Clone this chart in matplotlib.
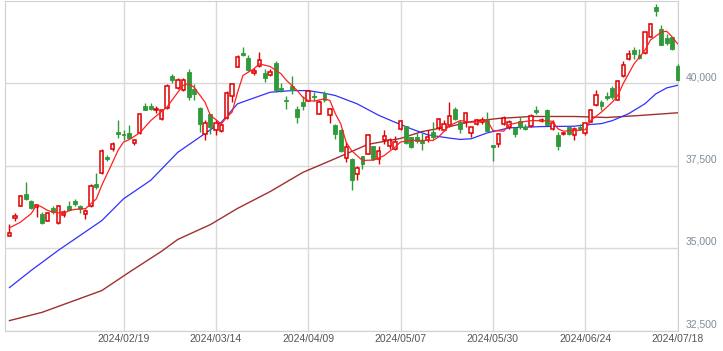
import matplotlib.pyplot as plt
import matplotlib.transforms as mtransforms
import numpy as np
import pandas as pd

# trading days (Tokyo), 2024/01/18 - 2024/07/18
holidays = ['2024-02-12', '2024-02-23', '2024-03-20', '2024-04-29',
            '2024-05-03', '2024-05-06', '2024-07-15']
days = pd.bdate_range('2024-01-18', '2024-07-18')
days = days[~days.isin(pd.to_datetime(holidays))]

opens = [35370, 35904, 36280, 36622, 36410, 36237, 36016, 35825, 36198, 35764,
         35995, 36258, 36431, 36258, 36016, 36258, 36934, 37258, 37743, 38006,
         38510, 38461, 38491, 38188, 38479, 39297, 39288, 39167, 38915, 39249,
         40206, 39855, 39773, 40328, 39824, 39237, 38461, 39046, 38582, 38531,
         38946, 39600, 40500, 40915, 40764, 40309, 40509, 40309, 40249, 40612,
         39843, 39500, 39924, 39218, 39419, 39449, 39621, 39067, 39691, 39037,
         38733, 38582, 37734, 37703, 37249, 37794, 37855, 38076, 37703, 38258,
         38076, 38006, 38612, 38682, 38358, 38350, 38258, 38258, 38510, 38643,
         38561, 38713, 39218, 38813, 38813, 38479, 38764, 38813, 38885, 38107,
         38158, 38743, 38661, 38631, 38843, 38661, 38682, 39167, 38843, 39167,
         38591, 38431, 38440, 38661, 38410, 38661, 38491, 38824, 39340, 39419,
         39600, 39843, 39491, 40197, 40734, 40985, 40855, 40915, 41409, 42318,
         41643, 41358, 41388, 40509]
highs = [35734, 36067, 36592, 36985, 36440, 36310, 36085, 36076, 36258, 36288,
         36137, 36419, 36470, 36310, 36188, 36946, 37267, 38006, 37825, 38207,
         38864, 38582, 38734, 38310, 39067, 39388, 39388, 39288, 39218, 39964,
         40279, 40158, 40146, 40430, 39976, 39258, 38864, 39046, 38864, 38794,
         39752, 39976, 40855, 41085, 40834, 40461, 40934, 40430, 40430, 40661,
         40000, 39621, 40227, 39318, 39591, 39794, 39722, 39470, 39752, 39228,
         38743, 38591, 38207, 37713, 37500, 37803, 38440, 38106, 38076, 38582,
         38328, 38379, 38885, 38712, 38364, 38470, 38470, 38561, 38813, 38946,
         38864, 39419, 39267, 38864, 39106, 38661, 38915, 38964, 39116, 38122,
         38470, 39015, 38864, 38661, 38964, 38743, 39067, 39318, 38934, 39218,
         38885, 38510, 38510, 38661, 38661, 38764, 38803, 39218, 39794, 39491,
         39722, 39924, 40076, 40652, 40985, 41085, 41037, 41540, 41824, 42400,
         41743, 41491, 41409, 40561]
lows = [35350, 35813, 36258, 36440, 36190, 35934, 35713, 35804, 36037, 35713,
        35934, 36107, 36267, 36067, 35864, 36243, 36783, 37243, 37622, 37925,
        38328, 38279, 38310, 38128, 38449, 39167, 39167, 39097, 38885, 39218,
        39994, 39825, 39752, 39500, 39500, 38510, 38258, 38461, 38410, 38510,
        38915, 39419, 40479, 40812, 40349, 40249, 40479, 40024, 40197, 39722,
        39722, 39218, 39673, 38782, 39167, 39440, 39449, 39061, 39419, 38782,
        38309, 37920, 37600, 36743, 37046, 37400, 37834, 37652, 37552, 38158,
        38006, 37955, 38561, 38158, 38016, 38167, 37955, 38207, 38310, 38561,
        38546, 38661, 38864, 38500, 38661, 38358, 38713, 38743, 38510, 37622,
        38055, 38713, 38612, 38358, 38612, 38576, 38661, 39067, 38813, 38713,
        38561, 37955, 38410, 38410, 38258, 38561, 38410, 38813, 39288, 39167,
        39470, 39521, 39470, 40176, 40682, 40734, 40734, 40885, 41388, 42045,
        41137, 41137, 41006, 40046]
closes = [35461, 35976, 36561, 36492, 36219, 36298, 35764, 36055, 36076, 36280,
          36076, 36137, 36319, 36188, 36128, 36864, 36855, 37946, 37703, 38158,
          38449, 38431, 38328, 38258, 39067, 39188, 39218, 39218, 39167, 39894,
          40076, 40076, 40076, 39570, 39673, 38764, 38794, 38661, 38794, 38713,
          39703, 39976, 40803, 40855, 40400, 40370, 40712, 40158, 40340, 39773,
          39803, 39440, 39773, 38964, 39318, 39743, 39570, 39419, 39500, 39218,
          38461, 37934, 38055, 37067, 37431, 37552, 38430, 37703, 37925, 38388,
          38258, 38207, 38834, 38176, 38055, 38243, 38188, 38358, 38358, 38915,
          38764, 39015, 38915, 38591, 39097, 38661, 38885, 38864, 38540, 38055,
          38461, 38946, 38813, 38461, 38661, 38591, 39015, 39116, 38885, 38713,
          38794, 38085, 38479, 38440, 38612, 38612, 38782, 39167, 39643, 39288,
          39540, 39570, 40046, 40552, 40885, 40885, 40764, 41540, 41794, 42167,
          41158, 41218, 41037, 40076]

# moving averages (trading-day number, price)
ma5_day = [0, 2, 4, 5, 6, 7, 8, 10, 11, 13, 14, 16, 17, 19, 20, 21, 22, 24, 26,
           29, 31, 32, 33, 34, 36, 37, 39, 40, 41, 42, 43, 45, 46, 48, 50, 51,
           53, 54, 55, 56, 58, 59, 60, 61, 62, 63, 65, 66, 67, 69, 71, 72, 74,
           76, 78, 79, 81, 83, 85, 87, 88, 89, 91, 92, 94, 96, 98, 100, 101,
           102, 104, 106, 107, 109, 111, 112, 113, 115, 117, 118, 120, 121,
           122, 123]
ma5_val = [35610, 35780, 36040, 36310, 36240, 36140, 36090, 36040, 36140, 36190,
           36190, 36490, 36900, 37600, 37960, 38210, 38280, 38490, 38860, 39270,
           39720, 39930, 39980, 39870, 39420, 39020, 38760, 38960, 39120, 39720,
           40230, 40430, 40580, 40500, 40280, 40080, 39770, 39570, 39470, 39450,
           39520, 39470, 39070, 38760, 38200, 37950, 37650, 37660, 37660, 37800,
           38060, 38210, 38260, 38260, 38260, 38360, 38710, 38860, 38810, 38840,
           38860, 38560, 38540, 38740, 38810, 38860, 38860, 38840, 38610, 38540,
           38560, 38580, 38860, 39120, 39420, 39620, 39980, 40580, 40990, 41300,
           41540, 41570, 41400, 41190]
ma25_day = [0, 4, 9, 17, 21, 26, 31, 39, 42, 48, 52, 55, 58, 60, 64, 68, 71, 74,
            77, 81, 83, 85, 88, 92, 98, 104, 106, 109, 111, 114, 117, 119, 121,
            123]
ma25_val = [33800, 34320, 34930, 35830, 36490, 37050, 37900, 38810, 39370, 39720,
            39770, 39770, 39690, 39620, 39370, 39020, 38810, 38610, 38430, 38330,
            38290, 38310, 38490, 38640, 38680, 38690, 38730, 38770, 38860, 39070,
            39370, 39670, 39850, 39930]
ma75_day = [0, 6, 11, 17, 22, 28, 31, 37, 42, 48, 54, 60, 66, 72, 76, 81, 85, 90,
            96, 104, 110, 116, 123]
ma75_val = [32800, 33050, 33350, 33710, 34260, 34900, 35260, 35710, 36200, 36710,
            37290, 37710, 38140, 38320, 38530, 38680, 38830, 38925, 38985, 38985,
            38955, 39015, 39097]

tick_dates = ['2024/02/19', '2024/03/14', '2024/04/09', '2024/05/07',
              '2024/05/30', '2024/06/24', '2024/07/18']
price_ticks = [32500, 35000, 37500, 40000]

UP = '#e00000'
DOWN = '#2f9a3a'
plt.rcParams['font.family'] = ['Liberation Sans', 'DejaVu Sans']

fig = plt.figure(figsize=(7.23, 3.51), dpi=100)
ax = fig.add_axes([5 / 723, 20.5 / 351, 672.5 / 723, 330 / 351])

x = np.arange(len(days))
o = np.array(opens)
h = np.array(highs)
l = np.array(lows)
c = np.array(closes)
up = c >= o

# wicks
ax.vlines(x[up], l[up], h[up], color=UP, lw=1, zorder=3, clip_on=False)
ax.vlines(x[~up], l[~up], h[~up], color=DOWN, lw=1, zorder=3, clip_on=False)
# bodies
body_h = np.maximum(np.abs(c - o), 12)
ax.bar(x[up], body_h[up], bottom=np.minimum(o, c)[up], width=0.62,
       facecolor='white', edgecolor=UP, lw=1.1, zorder=4, clip_on=False)
ax.bar(x[~up], body_h[~up], bottom=np.minimum(o, c)[~up], width=0.72,
       facecolor=DOWN, edgecolor=DOWN, lw=0.6, zorder=4, clip_on=False)

# moving averages
ax.plot(ma75_day, ma75_val, color='#a03030', lw=1, zorder=2)
ax.plot(ma25_day, ma25_val, color='#3030ff', lw=0.9, zorder=2)
ax.plot(ma5_day, ma5_val, color='#ff2020', lw=0.9, zorder=5)

ax.set_xlim(-0.82, 123.0)
ax.set_ylim(32500, 42500)

tick_pos = [days.get_loc(pd.Timestamp(d)) for d in tick_dates]
ax.set_xticks(tick_pos)
ax.set_xticklabels(tick_dates, fontsize=7.5, color='#555555')
ax.tick_params(axis='x', length=0, pad=2.5)
ax.set_yticks(price_ticks)
ax.tick_params(axis='y', length=0, labelleft=False, labelright=False)
ax.grid(True, color='#d9d9d9', lw=1, zorder=0)
ax.set_axisbelow(True)
for s in ax.spines.values():
    s.set_color('#d0d0d0')

# price labels sit just above their grid line, right of the plot
trans = mtransforms.blended_transform_factory(ax.transAxes, ax.transData)
trans = mtransforms.offset_copy(trans, fig=fig, y=6, units='dots')
for p in price_ticks:
    ax.text(1.0127, p, f'{p:,}', transform=trans, ha='left', va='center',
            fontsize=7.5, color='#7f8c99')

plt.savefig('out.png', dpi=100)
